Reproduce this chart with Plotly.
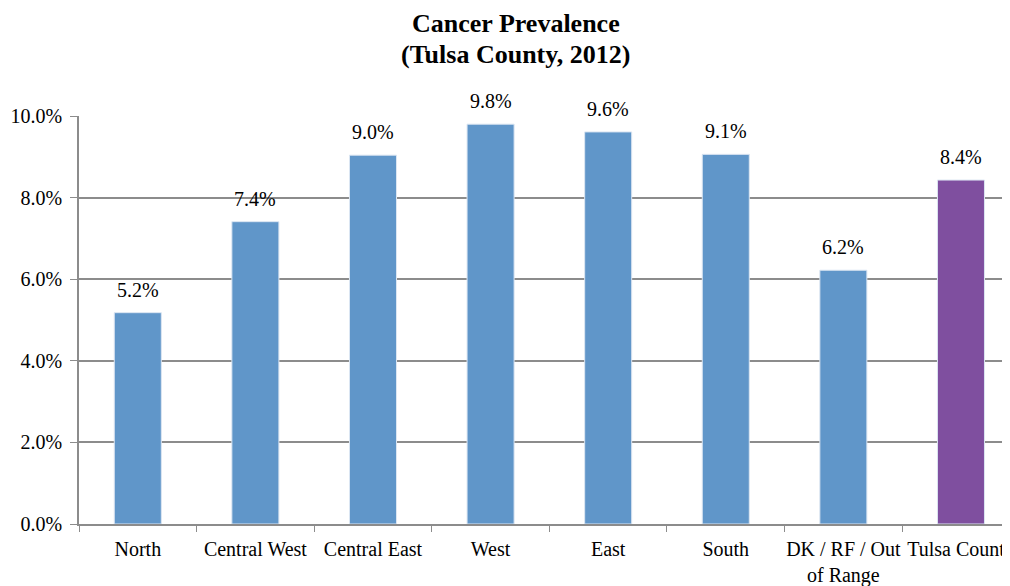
import plotly.graph_objects as go

categories = ["North", "Central West", "Central East", "West", "East", "South",
              "DK / RF / Out<br>of Range", "Tulsa County"]
values = [5.18, 7.41, 9.04, 9.80, 9.61, 9.06, 6.22, 8.43]
colors = ["#6096C9"] * 7 + ["#7F4F9F"]
y_ticks = [0, 2, 4, 6, 8, 10]
y_tick_labels = ["0.0%", "2.0%", "4.0%", "6.0%", "8.0%", "10.0%"]
title_lines = ["Cancer Prevalence", "(Tulsa County, 2012)"]

FONT = "Liberation Serif"

fig = go.Figure(go.Bar(
    x=categories, y=values,
    marker=dict(color=colors, line=dict(color="#DCE6F2", width=1)),
    width=0.4,
    hoverinfo="x+y",
))

# data labels
for c, v in zip(categories, values):
    fig.add_annotation(
        x=c, y=v, xref="x", yref="y",
        text=f"{v:.1f}%", showarrow=False,
        yanchor="bottom", yshift=10,
        font=dict(family=FONT, size=20, color="#000000"),
    )

# title (two lines with tight spacing)
PLOT_LEFT = 71
PLOT_W = 931
PLOT_TOP = 108
PLOT_H = 408
for line, ypx in zip(title_lines, [16, 46]):
    fig.add_annotation(
        x=(507.5 - PLOT_LEFT) / PLOT_W, y=1 + (PLOT_TOP - ypx) / PLOT_H,
        xref="paper", yref="paper", xanchor="center", yanchor="middle",
        text=f"<b>{line}</b>", showarrow=False,
        font=dict(family=FONT, size=26, color="#000000"),
    )

fig.update_layout(
    width=1002, height=578,
    margin=dict(l=PLOT_LEFT, r=0, t=PLOT_TOP, b=62, autoexpand=False),
    paper_bgcolor="white", plot_bgcolor="white",
    font=dict(family=FONT, size=20, color="#000000"),
    showlegend=False,
)
fig.update_xaxes(
    range=[-0.5, 7.417],
    showline=True, linecolor="#8C8C8C", linewidth=1.5,
    ticks="outside", tickson="boundaries", ticklen=6, tickcolor="#8C8C8C",
    tickangle=0, ticklabelstandoff=6,
    tickfont=dict(family=FONT, size=20, color="#000000"),
    showgrid=False, automargin=False,
)
fig.update_yaxes(
    range=[0, 10], tickvals=y_ticks, ticktext=y_tick_labels,
    showline=True, linecolor="#8C8C8C", linewidth=1.5,
    ticks="outside", ticklen=7, tickcolor="#8C8C8C",
    ticklabelstandoff=4,
    showgrid=True, gridcolor="#8C8C8C", gridwidth=1.5,
    tickfont=dict(family=FONT, size=20, color="#000000"),
    zeroline=False, automargin=False,
)

fig.write_html("out.html")
